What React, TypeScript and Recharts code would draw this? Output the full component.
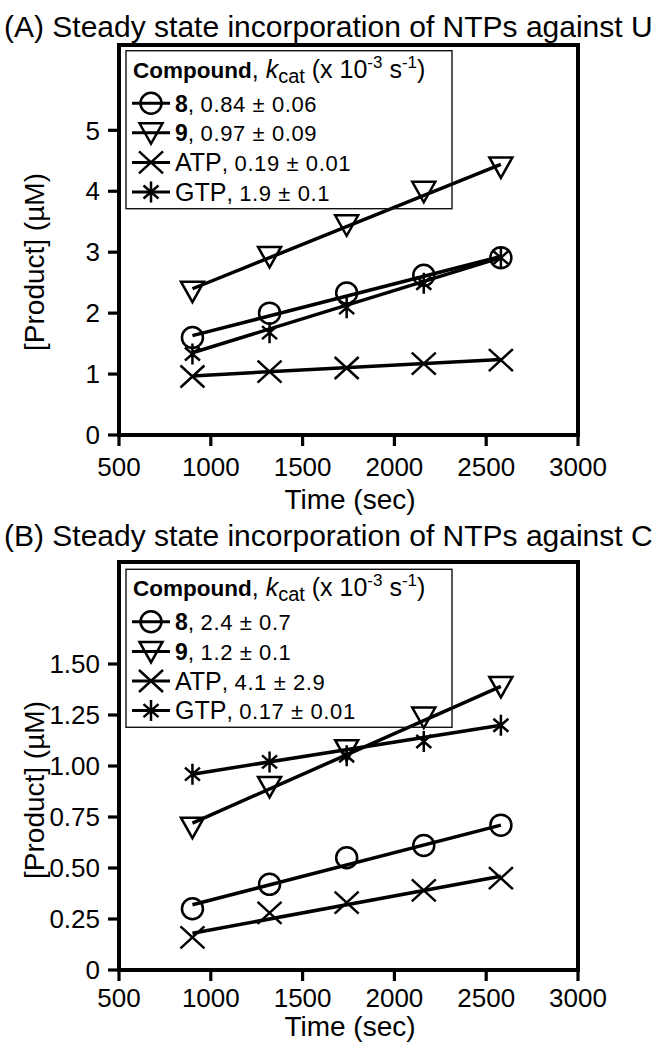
import { ScatterChart, Scatter, XAxis, YAxis, ReferenceArea } from "recharts"

// sampling times (sec)
const times = [900, 1320, 1740, 2160, 2580]
const fitTimes = [900, 2580]
const xTicks = [500, 1000, 1500, 2000, 2500, 3000]

// (A) against U, [Product] in uM
const cmp8U = [1.6, 2.0, 2.33, 2.62, 2.91]
const cmp9U = [2.36, 2.93, 3.45, 4.0, 4.4]
const atpU = [0.96, 1.04, 1.1, 1.17, 1.23]
const gtpU = [1.33, 1.68, 2.09, 2.49, 2.91]
// linear fit ends read at 900 and 2580 s
const fit8U = [1.63, 2.93]
const fit9U = [2.4, 4.44]
const fitAtpU = [0.97, 1.24]
const fitGtpU = [1.35, 2.91]
const yTicksU = [0, 1, 2, 3, 4, 5]

// (B) against C
const cmp8C = [0.3, 0.42, 0.55, 0.61, 0.71]
const cmp9C = [0.7, 0.9, 1.08, 1.24, 1.39]
const atpC = [0.16, 0.28, 0.33, 0.39, 0.45]
const gtpC = [0.96, 1.02, 1.05, 1.12, 1.2]
const fit8C = [0.32, 0.71]
const fit9C = [0.72, 1.39]
const fitAtpC = [0.18, 0.46]
const fitGtpC = [0.96, 1.2]
const yTicksC = [0, 0.25, 0.5, 0.75, 1.0, 1.25, 1.5]

const compounds = ["8", "9", "ATP", "GTP"]
const kcatU = ["0.84 ± 0.06", "0.97 ± 0.09", "0.19 ± 0.01", "1.9 ± 0.1"]
const kcatC = ["2.4 ± 0.7", "1.2 ± 0.1", "4.1 ± 2.9", "0.17 ± 0.01"]

const FONT = "'Liberation Sans', Arial, Helvetica, sans-serif"
const INK = "#000"

const pts = (xs: number[], ys: number[]) => xs.map((x, i) => ({ x, y: ys[i] }))

// markers
const Ring = ({ cx, cy }: any) => (
  <circle cx={cx} cy={cy} r={10.5} fill="none" stroke={INK} strokeWidth={2.5} />
)
const Tri = ({ cx, cy }: any) => (
  <polygon
    points={`${cx - 11.5},${cy - 9.5} ${cx + 11.5},${cy - 9.5} ${cx},${cy + 11}`}
    fill="none"
    stroke={INK}
    strokeWidth={2.5}
  />
)
const Cross = ({ cx, cy }: any) => (
  <path
    d={`M${cx - 12},${cy - 11}L${cx + 12},${cy + 11}M${cx + 12},${cy - 11}L${cx - 12},${cy + 11}`}
    stroke={INK}
    strokeWidth={2.5}
    fill="none"
  />
)
const Star = ({ cx, cy }: any) => (
  <path
    d={`M${cx},${cy - 10.5}L${cx},${cy + 10.5}M${cx - 7.5},${cy - 6.5}L${cx + 7.5},${cy + 6.5}M${cx + 7.5},${cy - 6.5}L${cx - 7.5},${cy + 6.5}`}
    stroke={INK}
    strokeWidth={2.5}
    fill="none"
  />
)
const Nothing = () => <g />
const markers = [Ring, Tri, Cross, Star]

type PanelProps = {
  top: number
  marginTop: number
  marginBottom: number
  yMax: number
  yTicks: number[]
  xTickMargin: number
  values: number[][]
  fits: number[][]
  fmt: (v: number) => string
}

function Panel({ top, marginTop, marginBottom, yMax, yTicks, xTickMargin, values, fits, fmt }: PanelProps) {
  const tickFont = { fill: INK, fontSize: 26, fontFamily: FONT }
  return (
    <div style={{ position: "absolute", left: 0, top }}>
      <ScatterChart
        width={664}
        height={525}
        margin={{ top: marginTop, right: 86, bottom: marginBottom, left: 59 }}
      >
        <XAxis
          type="number"
          dataKey="x"
          domain={[500, 3000]}
          ticks={xTicks}
          interval={0}
          height={30}
          tickSize={11}
          tickMargin={xTickMargin}
          tick={tickFont}
          axisLine={{ stroke: INK, strokeWidth: 4 }}
          tickLine={{ stroke: INK, strokeWidth: 3.2 }}
          allowDataOverflow
        />
        <YAxis
          type="number"
          dataKey="y"
          domain={[0, yMax]}
          ticks={yTicks}
          interval={0}
          width={60}
          tickSize={11}
          tickMargin={8}
          tick={tickFont}
          tickFormatter={fmt}
          axisLine={{ stroke: INK, strokeWidth: 4 }}
          tickLine={{ stroke: INK, strokeWidth: 3.2 }}
          allowDataOverflow
        />
        <ReferenceArea
          x1={500}
          x2={3000}
          y1={0}
          y2={yMax}
          fill="none"
          fillOpacity={0}
          stroke={INK}
          strokeWidth={4}
        />
        {fits.map((f, i) => (
          <Scatter
            key={"fit" + i}
            data={pts(fitTimes, f)}
            line={{ stroke: INK, strokeWidth: 3.5 }}
            shape={Nothing}
            isAnimationActive={false}
          />
        ))}
        {values.map((v, i) => (
          <Scatter
            key={"pts" + i}
            data={pts(times, v)}
            shape={markers[i]}
            isAnimationActive={false}
          />
        ))}
      </ScatterChart>
    </div>
  )
}

function LegendBox({ y, kcat }: { y: number; kcat: string[] }) {
  return (
    <g fontFamily={FONT} fill={INK}>
      <rect x={126} y={y} width={326} height={158} fill="none" stroke="#111" strokeWidth={1.4} />
      <text x={133} y={y + 27} fontSize={25}>
        <tspan fontWeight="bold" fontSize={22.5}>Compound</tspan>
        <tspan>, </tspan>
        <tspan fontStyle="italic">k</tspan>
        <tspan fontSize={20} dy={5}>cat</tspan>
        <tspan dy={-5}> (x 10</tspan>
        <tspan fontSize={17} dy={-10}>-3</tspan>
        <tspan dy={10}> s</tspan>
        <tspan fontSize={17} dy={-10}>-1</tspan>
        <tspan dy={10}>)</tspan>
      </text>
      {compounds.map((c, i) => {
        const cy = y + 52.5 + i * 29.6
        const M = markers[i]
        return (
          <g key={c}>
            <line x1={132} x2={170} y1={cy} y2={cy} stroke={INK} strokeWidth={3} />
            <M cx={151} cy={cy} />
            <text x={175} y={cy + 8.5}>
              <tspan fontSize={i < 2 ? 23 : 25} fontWeight={i < 2 ? "bold" : "normal"}>
                {c}
              </tspan>
              <tspan fontSize={23}>, </tspan>
              <tspan fontSize={22} letterSpacing={0.6}>
                {kcat[i]}
              </tspan>
            </text>
          </g>
        )
      })}
    </g>
  )
}

function Labels() {
  return (
    <svg
      width={664}
      height={1050}
      style={{ position: "absolute", left: 0, top: 0, pointerEvents: "none" }}
    >
      <g fontFamily={FONT} fill={INK}>
        <text x={4} y={37} fontSize={30}>
          (A) Steady state incorporation of NTPs against U
        </text>
        <text x={4} y={546} fontSize={30}>
          (B) Steady state incorporation of NTPs against C
        </text>
        <text x={350} y={509} fontSize={28} textAnchor="middle">
          Time (sec)
        </text>
        <text x={350} y={1036} fontSize={28} textAnchor="middle">
          Time (sec)
        </text>
        <text transform="translate(44,262) rotate(-90)" fontSize={28} textAnchor="middle">
          [Product] (µM)
        </text>
        <text transform="translate(44,790) rotate(-90)" fontSize={28} textAnchor="middle">
          [Product] (µM)
        </text>
      </g>
      <LegendBox y={50.7} kcat={kcatU} />
      <LegendBox y={569.3} kcat={kcatC} />
    </svg>
  )
}

export default function App() {
  return (
    <div style={{ position: "absolute", left: 0, top: 0, width: 664, height: 1050, background: "#fff" }}>
      <Panel
        top={0}
        marginTop={45}
        marginBottom={60}
        yMax={6.4}
        yTicks={yTicksU}
        xTickMargin={12}
        values={[cmp8U, cmp9U, atpU, gtpU]}
        fits={[fit8U, fit9U, fitAtpU, fitGtpU]}
        fmt={(v) => String(v)}
      />
      <Panel
        top={525}
        marginTop={37}
        marginBottom={50}
        yMax={2}
        yTicks={yTicksC}
        xTickMargin={8}
        values={[cmp8C, cmp9C, atpC, gtpC]}
        fits={[fit8C, fit9C, fitAtpC, fitGtpC]}
        fmt={(v) => (v === 0 ? "0" : v.toFixed(2))}
      />
      <Labels />
    </div>
  )
}
